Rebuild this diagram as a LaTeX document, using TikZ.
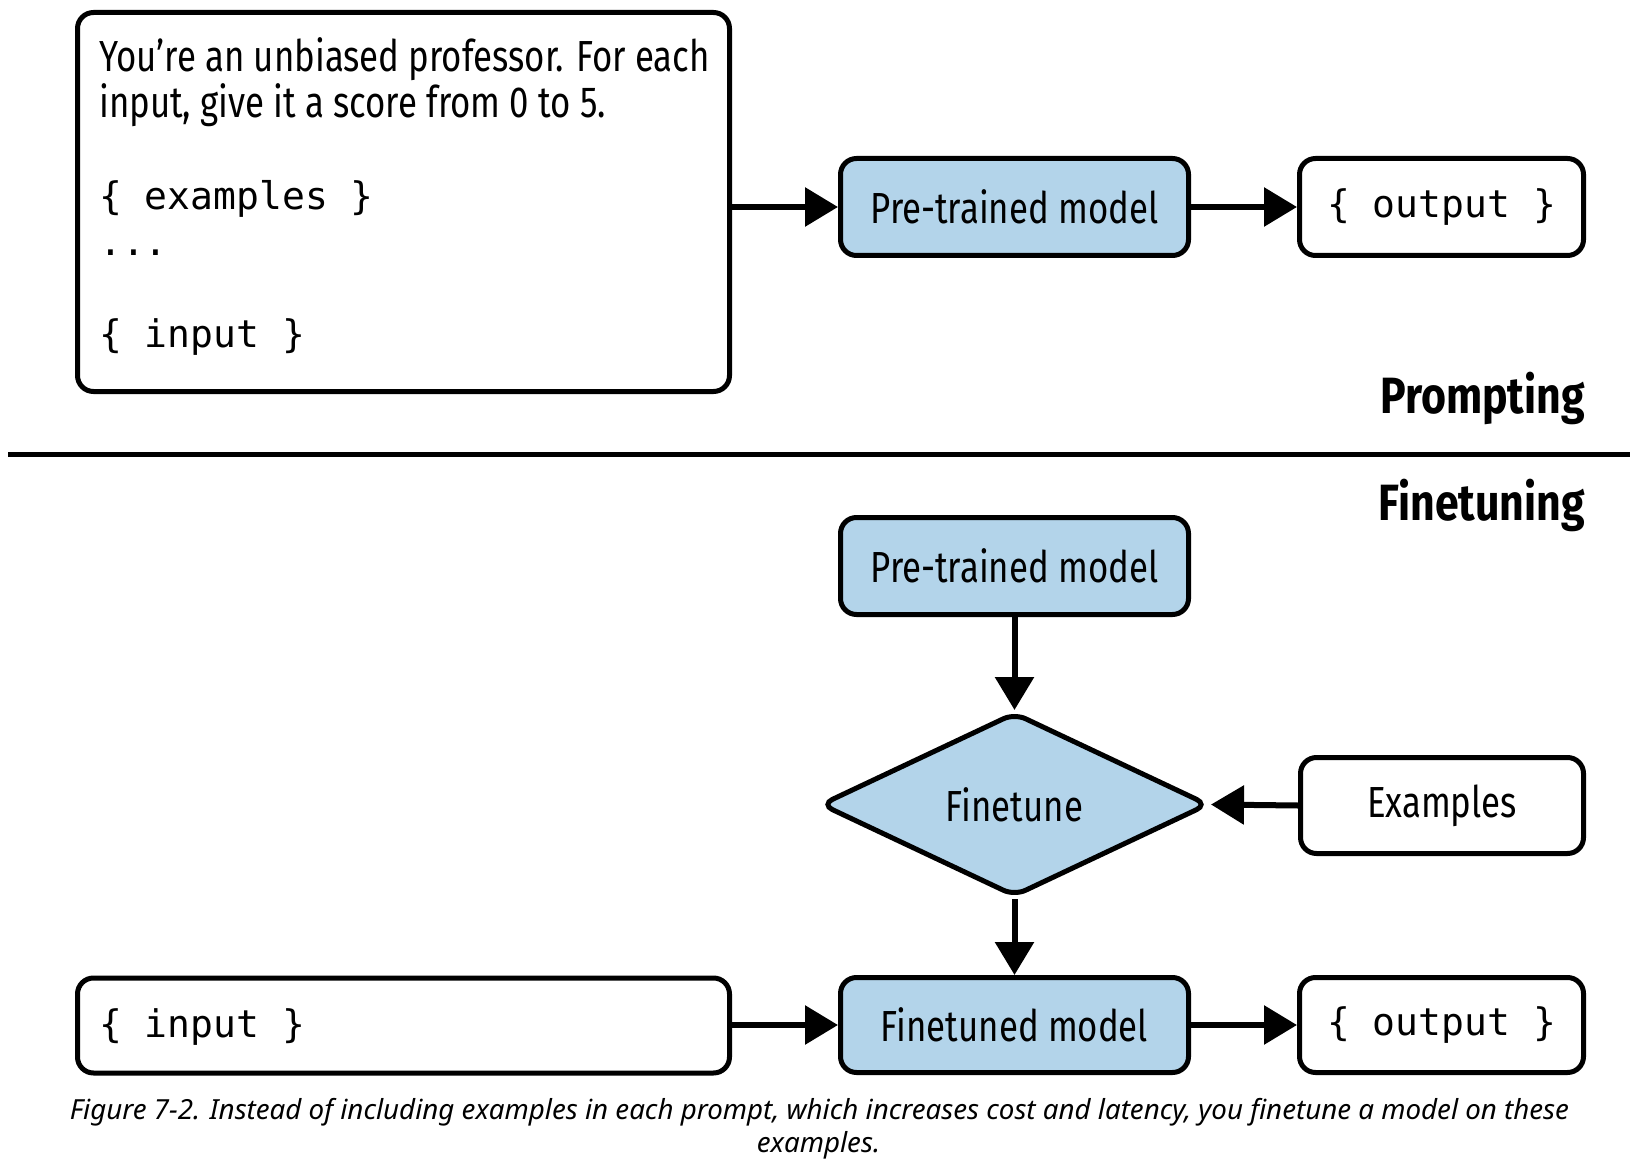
\documentclass[tikz,border=0pt]{standalone}
\usepackage{fontspec}
\usetikzlibrary{shapes.geometric,arrows.meta}
\newfontfamily\lblfont{Fira Sans}[FakeStretch=0.8]
\newfontfamily\headfont{Fira Sans Bold}[FakeStretch=0.84]
\newfontfamily\capfont{Noto Sans}
\newfontfamily\mfont{DejaVu Sans Mono}
\definecolor{boxblue}{RGB}{179,212,234}
\begin{document}
\begin{tikzpicture}[x=1pt,y=-1pt,
  box/.style={draw, line width=5pt, rounded corners=16pt, inner sep=0pt, minimum height=97pt},
  bluebox/.style={box, fill=boxblue},
  lbl/.style={font=\lblfont\fontsize{43.5}{46}\selectfont},
  mono/.style={font=\mfont\fontsize{38}{46}\selectfont},
  head/.style={font=\headfont\fontsize{51}{56}\selectfont, inner sep=0pt, anchor=base east},
  txt/.style={inner sep=0pt, anchor=base west},
  captxt/.style={font=\capfont\itshape\fontsize{27.7}{33}\selectfont, inner sep=0pt, anchor=base},
  arr/.style={line width=6pt, -{Triangle[length=33pt,width=38pt]}},
  ]
\useasboundingbox (0,0) rectangle (1633,1174);
% prompting
\node[box, minimum width=652pt, minimum height=379pt] (prompt) at (403.5,202) {};
\node[txt, lbl] (l1) at (99,72) {You’re an unbiased professor. For each};
\node[txt, lbl] (l2) at (99,118) {input, give it a score from 0 to 5.};
\node[txt, mono] (ex1) at (99,210) {\{ examples \}};
\node[txt, mono] (dots) at (99,256) {...};
\node[txt, mono] (in1) at (99,348) {\{ input \}};
\node[bluebox, lbl, minimum width=348pt] (pt1) at (1014.5,207) {Pre-trained model};
\node[box, mono, minimum width=284pt] (out1) at (1441.5,207) {\{ output \}};
\draw[arr] (prompt.east |- pt1.west) -- (pt1.west);
\draw[arr] (pt1.east) -- (out1.west);
\node[head] (hp) at (1585,413) {Prompting};
% separator
\coordinate (sepL) at (8,454);
\coordinate (sepR) at (1630,454);
\draw[line width=5pt] (sepL) -- (sepR);
% finetuning
\node[head] (hf) at (1585,520) {Finetuning};
\node[bluebox, lbl, minimum width=348pt] (pt2) at (1014.5,566) {Pre-trained model};
\node[draw, diamond, fill=boxblue, line width=5pt, rounded corners=12pt, inner sep=0pt,
      minimum width=388pt, minimum height=184pt, lbl] (ft) at (1014.5,804.5) {Finetune};
\node[box, lbl, minimum width=283pt, minimum height=96pt] (ex) at (1442,805.5) {Examples};
\node[box, mono, minimum width=652pt, minimum height=95pt] (in2) at (403.5,1025.5) {};
\node[txt, mono] (in2t) at (99,1037) {\{ input \}};
\node[bluebox, lbl, minimum width=348pt, minimum height=95pt] (ftm) at (1014.5,1025) {Finetuned model};
\node[box, mono, minimum width=284pt, minimum height=95pt] (out2) at (1441.5,1025) {\{ output \}};
\draw[arr] (pt2.south) -- (ft.north);
\draw[arr] (ex.west) -- (ft.east);
\draw[arr] (ft.south) -- (ftm.north);
\draw[arr] (in2.east |- ftm.west) -- (ftm.west);
\draw[arr] (ftm.east) -- (out2.west);
% caption
\node[captxt] (c1) at (819.5,1119) {Figure 7-2. Instead of including examples in each prompt, which increases cost and latency, you finetune a model on these};
\node[captxt] (c2) at (818.5,1152) {examples.};
\end{tikzpicture}
\end{document}
